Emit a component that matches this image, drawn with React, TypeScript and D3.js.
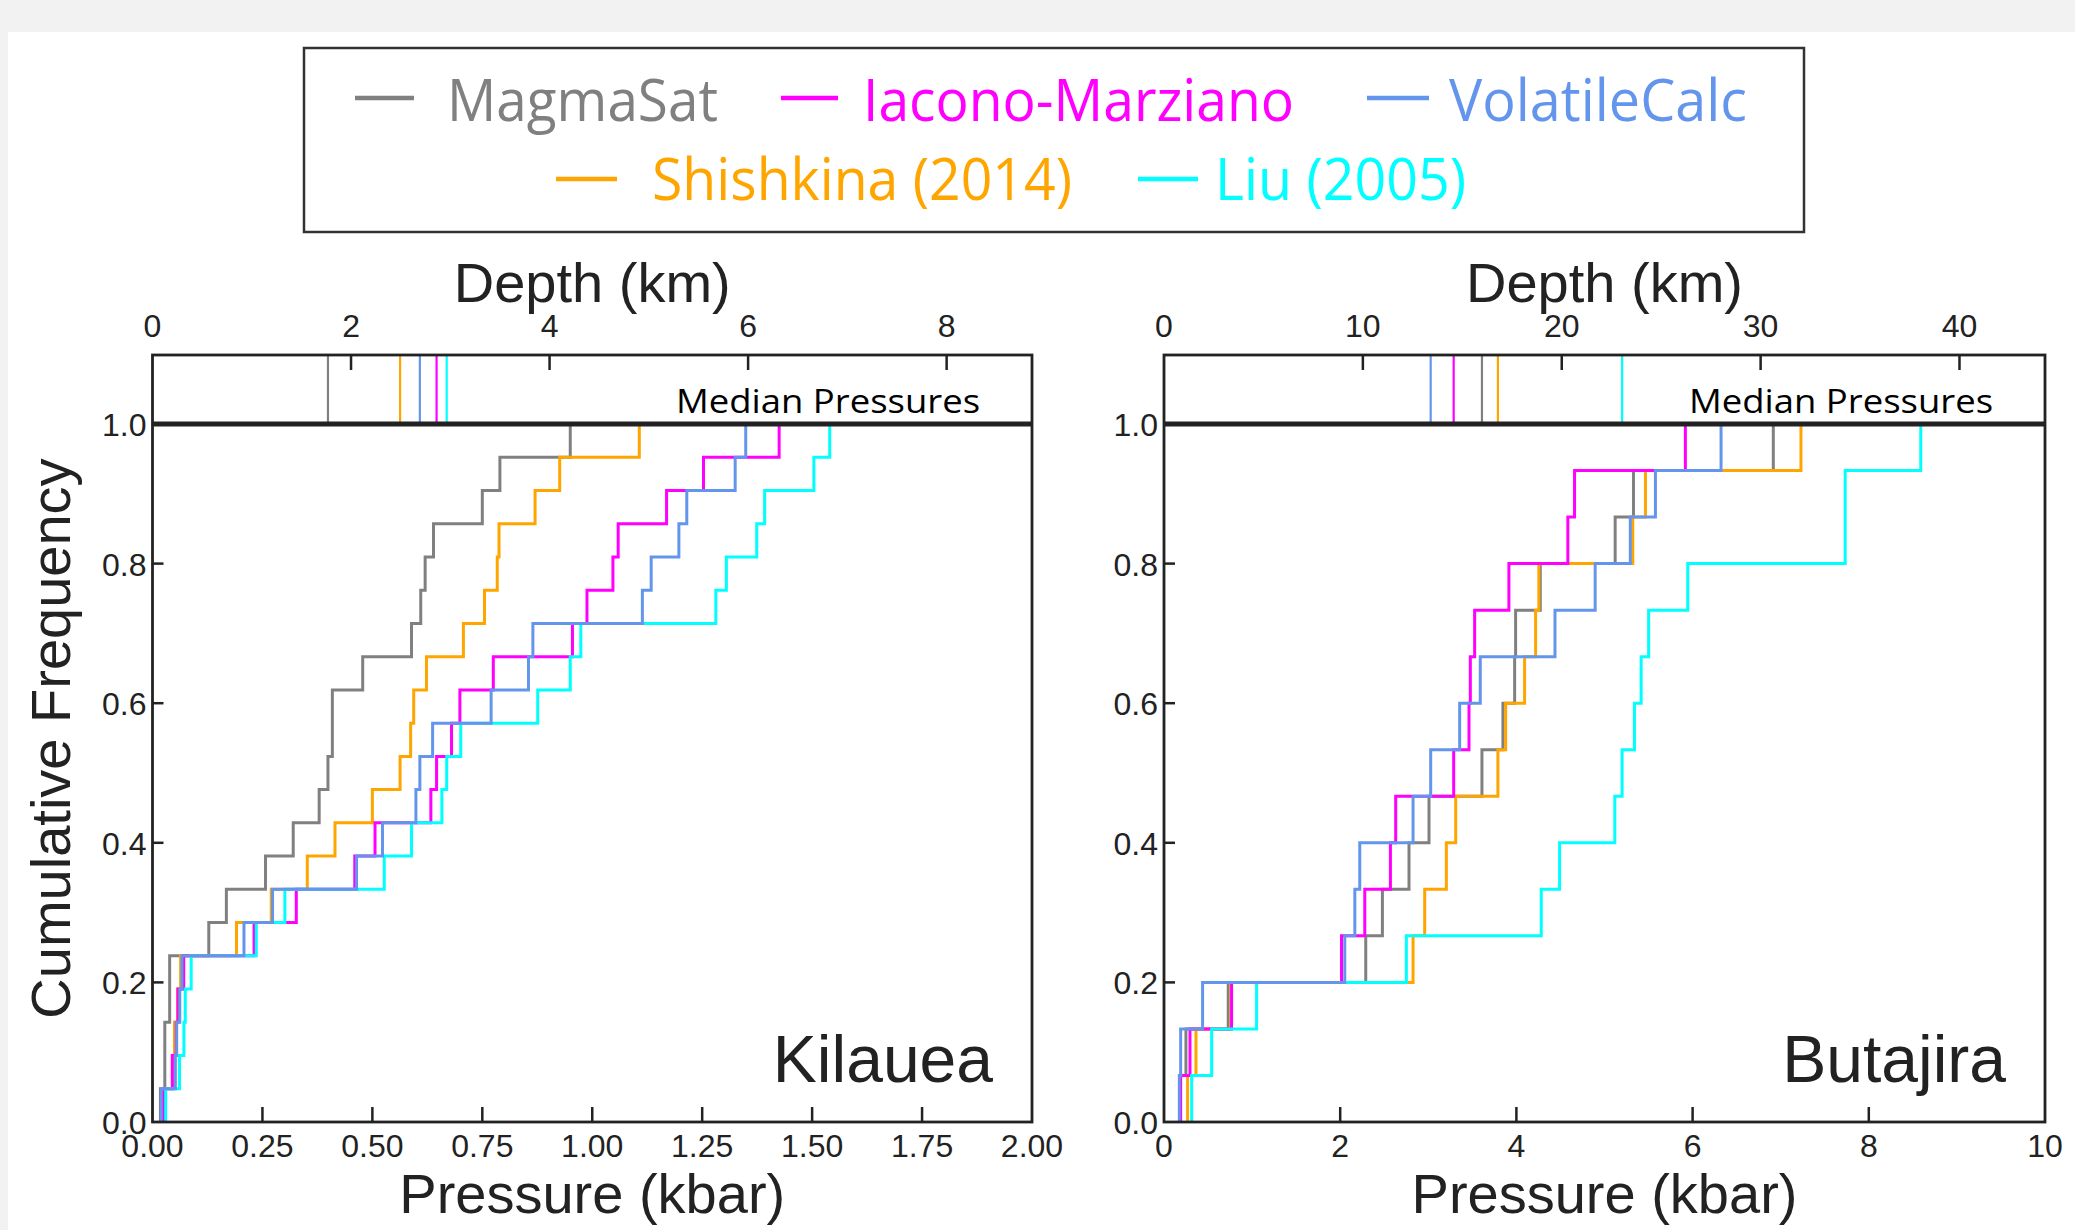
import React from 'react';
import * as d3 from 'd3';

// ---------------- DATA ----------------
const seriesNames = ['MagmaSat', 'Iacono-Marziano', 'VolatileCalc', 'Shishkina (2014)', 'Liu (2005)'];
const seriesColors = ['#808080', '#ff00ff', '#6495ed', '#ffa500', '#00ffff'];

// Kilauea pressures (kbar), 21 samples per model
const kilaueaMagmaSat = [0.018, 0.028, 0.028, 0.039, 0.039, 0.128, 0.168, 0.257, 0.320, 0.379, 0.399, 0.409, 0.409, 0.478, 0.589, 0.610, 0.620, 0.639, 0.750, 0.790, 0.950];
const kilaueaIacono = [0.025, 0.045, 0.054, 0.058, 0.071, 0.231, 0.327, 0.460, 0.506, 0.633, 0.646, 0.680, 0.699, 0.775, 0.955, 0.988, 1.047, 1.059, 1.169, 1.253, 1.425];
const kilaueaVolatileCalc = [0.020, 0.052, 0.055, 0.062, 0.067, 0.208, 0.273, 0.464, 0.523, 0.599, 0.608, 0.637, 0.770, 0.855, 0.865, 1.114, 1.134, 1.197, 1.215, 1.325, 1.349];
const kilaueaShishkina = [0.022, 0.046, 0.050, 0.057, 0.064, 0.191, 0.270, 0.352, 0.415, 0.500, 0.563, 0.587, 0.594, 0.623, 0.707, 0.755, 0.784, 0.788, 0.870, 0.926, 1.107];
const kilaueaLiu = [0.030, 0.0615, 0.0714, 0.0745, 0.088, 0.236, 0.301, 0.527, 0.589, 0.658, 0.669, 0.701, 0.876, 0.950, 0.974, 1.281, 1.305, 1.374, 1.392, 1.504, 1.540];

// Butajira pressures (kbar), 15 samples per model
const butajiraMagmaSat = [0.181, 0.249, 0.729, 2.290, 2.479, 2.781, 3.008, 3.609, 3.847, 3.980, 3.991, 4.271, 5.121, 5.329, 6.916];
const butajiraIacono = [0.189, 0.295, 0.767, 2.015, 2.279, 2.570, 2.630, 3.288, 3.462, 3.477, 3.526, 3.915, 4.584, 4.660, 5.918];
const butajiraVolatileCalc = [0.174, 0.189, 0.438, 2.052, 2.166, 2.222, 2.827, 3.027, 3.356, 3.590, 4.438, 4.894, 5.293, 5.578, 6.323];
const butajiraShishkina = [0.268, 0.363, 0.760, 2.827, 2.959, 3.205, 3.311, 3.790, 3.878, 4.093, 4.218, 4.255, 5.321, 5.465, 7.230];
const butajiraLiu = [0.314, 0.541, 1.051, 2.751, 4.282, 4.490, 5.117, 5.200, 5.340, 5.416, 5.501, 5.945, 7.732, 7.732, 8.590];

const kilaueaPressureTicks = [0, 0.25, 0.5, 0.75, 1.0, 1.25, 1.5, 1.75, 2.0];
const butajiraPressureTicks = [0, 2, 4, 6, 8, 10];
const kilaueaDepthTicks = [0, 2, 4, 6, 8];
const butajiraDepthTicks = [0, 10, 20, 30, 40];
const frequencyTicks = [0, 0.2, 0.4, 0.6, 0.8, 1.0];
const KM_PER_KBAR = 4.43;

// draw order (bottom -> top) as index into series
const drawOrder = [0, 3, 1, 4, 2];

// ---------------- LAYOUT ----------------
const W = 2075;
const H = 1230;
const STRIP_TOP = 355;
const PLOT_TOP = 424;
const PLOT_BOTTOM = 1122;
const AXIS_FONT = '"Liberation Sans", Arial, Helvetica, sans-serif';
const LEGEND_FONT = '"Open Sans", "Noto Sans", sans-serif';
const FRAME = '#222222';

const legendLayout = [
  { row: 0, hx1: 355, hx2: 414, tx: 447, tl: 271 },
  { row: 0, hx1: 781, hx2: 838, tx: 863, tl: 431 },
  { row: 0, hx1: 1367, hx2: 1429, tx: 1449, tl: 298 },
  { row: 1, hx1: 556, hx2: 617, tx: 652, tl: 420 },
  { row: 1, hx1: 1138, hx2: 1198, tx: 1215, tl: 251 },
];
const legendRowBaseline = [121, 200];
const legendRowLine = [98, 179];

type PanelProps = {
  x0: number;
  x1: number;
  xMax: number;
  xTicks: number[];
  depthTicks: number[];
  xFormat: (n: number) => string;
  data: number[][];
  name: string;
  showYLabel: boolean;
};

function Panel({ x0, x1, xMax, xTicks, depthTicks, xFormat, data, name, showYLabel }: PanelProps) {
  const x = d3.scaleLinear().domain([0, xMax]).range([x0, x1]);
  const depth = d3.scaleLinear().domain([0, xMax * KM_PER_KBAR]).range([x0, x1]);
  const y = d3.scaleLinear().domain([0, 1]).range([PLOT_BOTTOM, PLOT_TOP]);
  const line = d3
    .line<[number, number]>()
    .x((d) => x(d[0]))
    .y((d) => y(d[1]))
    .curve(d3.curveStepAfter);
  const yFmt = d3.format('.1f');
  const dFmt = d3.format('d');

  const ecdf = (vals: number[]): [number, number][] => {
    const s = vals.slice().sort(d3.ascending);
    const n = s.length;
    const pts: [number, number][] = [[s[0], 0]];
    s.forEach((v, i) => pts.push([v, (i + 1) / n]));
    return pts;
  };

  const cx = (x0 + x1) / 2;

  return (
    <g>
      {/* series */}
      {drawOrder.map((si) => (
        <path key={'s' + si} d={line(ecdf(data[si])) || ''} fill="none" stroke={seriesColors[si]} strokeWidth={3} />
      ))}
      {/* median strip lines */}
      {drawOrder.map((si) => {
        const m = d3.median(data[si]) as number;
        return (
          <line key={'m' + si} x1={x(m)} x2={x(m)} y1={STRIP_TOP} y2={PLOT_TOP} stroke={seriesColors[si]} strokeWidth={2.2} />
        );
      })}
      {/* frames */}
      <rect x={x0} y={STRIP_TOP} width={x1 - x0} height={PLOT_BOTTOM - STRIP_TOP} fill="none" stroke={FRAME} strokeWidth={2.8} />
      <line x1={x0} x2={x1} y1={PLOT_TOP} y2={PLOT_TOP} stroke={FRAME} strokeWidth={5} />
      {/* bottom ticks */}
      {xTicks.map((t) => (
        <g key={'xt' + t}>
          {t > 0 && t < xMax && <line x1={x(t)} x2={x(t)} y1={PLOT_BOTTOM} y2={PLOT_BOTTOM - 15} stroke={FRAME} strokeWidth={2.5} />}
          <text x={x(t)} y={1157} textAnchor="middle" fontFamily={AXIS_FONT} fontSize={32} fill="#222">
            {xFormat(t)}
          </text>
        </g>
      ))}
      {/* left ticks */}
      {frequencyTicks.map((t) => (
        <g key={'yt' + t}>
          {t > 0 && t < 1 && <line x1={x0} x2={x0 + 11} y1={y(t)} y2={y(t)} stroke={FRAME} strokeWidth={2.5} />}
          <text x={x0 - 6} y={y(t) + 12} textAnchor="end" fontFamily={AXIS_FONT} fontSize={32} fill="#222">
            {yFmt(t)}
          </text>
        </g>
      ))}
      {/* depth ticks */}
      {depthTicks.map((t) => (
        <g key={'dt' + t}>
          {t > 0 && <line x1={depth(t)} x2={depth(t)} y1={STRIP_TOP} y2={STRIP_TOP + 15} stroke={FRAME} strokeWidth={2.5} />}
          <text x={depth(t)} y={337} textAnchor="middle" fontFamily={AXIS_FONT} fontSize={32} fill="#222">
            {dFmt(t)}
          </text>
        </g>
      ))}
      <text x={x1 - 52} y={413} textAnchor="end" fontFamily={LEGEND_FONT} fontSize={32} fill="#000" textLength={304} lengthAdjust="spacingAndGlyphs">
        Median Pressures
      </text>
      <text x={cx} y={302} textAnchor="middle" fontFamily={AXIS_FONT} fontSize={56} fill="#222">
        Depth (km)
      </text>
      <text x={cx} y={1213} textAnchor="middle" fontFamily={AXIS_FONT} fontSize={56} fill="#222">
        Pressure (kbar)
      </text>
      <text x={x1 - 39} y={1082} textAnchor="end" fontFamily={AXIS_FONT} fontSize={66} fill="#222">
        {name}
      </text>
      {showYLabel && (
        <text transform={`translate(70, ${(STRIP_TOP + PLOT_BOTTOM) / 2}) rotate(-90)`} textAnchor="middle" fontFamily={AXIS_FONT} fontSize={56} fill="#222">
          Cumulative Frequency
        </text>
      )}
    </g>
  );
}

export default function App() {
  const kilaueaData = [kilaueaMagmaSat, kilaueaIacono, kilaueaVolatileCalc, kilaueaShishkina, kilaueaLiu];
  const butajiraData = [butajiraMagmaSat, butajiraIacono, butajiraVolatileCalc, butajiraShishkina, butajiraLiu];
  return (
    <svg width={W} height={H} style={{ position: 'absolute', left: 0, top: 0, display: 'block' }} xmlns="http://www.w3.org/2000/svg">
      <rect x={0} y={0} width={W} height={H} fill="#f2f2f2" />
      <rect x={8} y={32} width={W - 8} height={H - 32} fill="#ffffff" />
      {/* legend */}
      <rect x={304} y={48} width={1500} height={184} fill="#fff" stroke="#333" strokeWidth={2.5} />
      {seriesNames.map((nm, i) => {
        const L = legendLayout[i];
        return (
          <g key={nm}>
            <line x1={L.hx1} x2={L.hx2} y1={legendRowLine[L.row]} y2={legendRowLine[L.row]} stroke={seriesColors[i]} strokeWidth={4.5} />
            <text x={L.tx} y={legendRowBaseline[L.row]} fontFamily={LEGEND_FONT} fontSize={58} fill={seriesColors[i]} textLength={L.tl} lengthAdjust="spacingAndGlyphs">
              {nm}
            </text>
          </g>
        );
      })}
      <Panel
        x0={152.5}
        x1={1032}
        xMax={2}
        xTicks={kilaueaPressureTicks}
        depthTicks={kilaueaDepthTicks}
        xFormat={d3.format('.2f')}
        data={kilaueaData}
        name="Kilauea"
        showYLabel={true}
      />
      <Panel
        x0={1164}
        x1={2045}
        xMax={10}
        xTicks={butajiraPressureTicks}
        depthTicks={butajiraDepthTicks}
        xFormat={d3.format('d')}
        data={butajiraData}
        name="Butajira"
        showYLabel={false}
      />
    </svg>
  );
}
